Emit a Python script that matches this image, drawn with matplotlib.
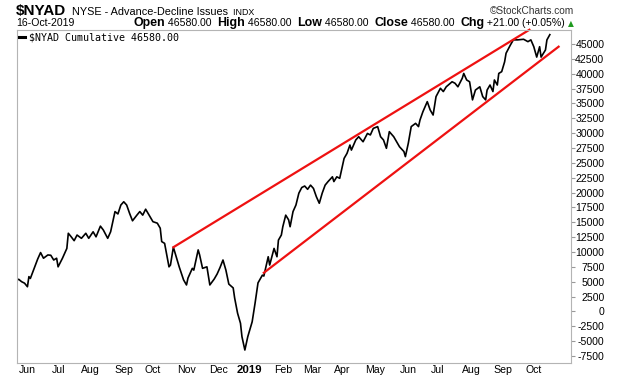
import pandas as pd
from matplotlib import pyplot as plt

# trading-day offsets counted from 23-May-2018, and the NYAD cumulative line
day = [0, 1, 3, 5, 7, 8, 9, 12, 14, 16, 18, 21, 23, 25, 27, 28, 31, 34, 35, 37,
       39, 41, 44, 47, 49, 52, 54, 57, 59, 62, 64, 67, 69, 71, 73, 75, 77, 79, 82, 84,
       86, 88, 91, 93, 96, 98, 99, 101, 104, 105, 107, 110, 111, 114, 116, 117, 120, 121, 124, 125,
       127, 130, 132, 135, 137, 139, 141, 143, 145, 148, 149, 151, 153, 154, 156, 158, 161, 163, 165, 168,
       169, 171, 172, 173, 176, 178, 179, 181, 182, 184, 186, 187, 189, 191, 193, 195, 197, 199, 201, 203,
       205, 207, 209, 211, 213, 216, 217, 219, 221, 224, 226, 228, 229, 232, 234, 237, 240, 242, 244, 247,
       249, 251, 253, 255, 258, 260, 262, 265, 266, 268, 270, 273, 275, 276, 278, 281, 283, 285, 287, 290,
       292, 294, 298, 300, 302, 305, 306, 308, 310, 312, 314, 317, 319, 321, 322, 324, 326, 327, 329, 330,
       332, 334, 335, 338, 340, 343, 347, 350, 352, 354, 356, 358, 359, 362, 363, 365]
nyad = [5300, 5400, 5000, 4750, 4150, 5850, 5550, 7500, 8800, 9900, 8950, 9500, 9450, 8650, 8950, 7500, 8950, 10600, 13150, 12550,
        11900, 12850, 12300, 13150, 12300, 13400, 12550, 14350, 13700, 12300, 13400, 16800, 16400, 17900, 18450, 17900, 16500, 15250, 16200, 16800,
        16200, 17200, 15950, 15100, 14850, 14000, 11750, 11450, 7500, 7800, 10800, 8350, 7500, 5300, 4450, 5600, 7250, 6950, 10350, 9500,
        7250, 7500, 4450, 5450, 6300, 7400, 8650, 6950, 4600, 3950, 2250, -300, -2000, -4250, -6500, -4250, -1750, 1400, 4800, 6100,
        5950, 8100, 9200, 7800, 10600, 9200, 12000, 12850, 14250, 16200, 15400, 14250, 16800, 17900, 19900, 20850, 21100, 20550, 21250, 20700,
        19300, 18200, 19900, 21250, 21850, 22650, 21850, 22650, 22400, 25750, 26600, 28000, 27150, 28850, 29400, 28550, 29950, 29700, 30800, 31100,
        29400, 28850, 27450, 30250, 29400, 28550, 27700, 26900, 26050, 28300, 31100, 31650, 31100, 32200, 33600, 35300, 33900, 33050, 36150, 37550,
        37000, 37800, 38650, 38400, 37800, 39250, 40050, 38950, 38650, 35600, 37250, 37800, 36150, 35600, 37250, 38100, 37000, 38950, 38100, 40050,
        40350, 42000, 43450, 44850, 45700, 45700, 45800, 45400, 45700, 44550, 42800, 44550, 42800, 44000, 45700, 46580]

# trend lines drawn on the chart (trading-day offset, value)
upper_day = [107, 351]
upper_val = [10800, 47400]
lower_day = [169, 371]
lower_val = [6500, 44550]

y_ticks = list(range(-7500, 45001, 2500))

plt.rcParams['axes.unicode_minus'] = False
SANS = ['Liberation Sans', 'DejaVu Sans']
NARROW = ['Liberation Sans Narrow', 'Liberation Sans', 'DejaVu Sans']

dates = pd.bdate_range('2018-05-23', periods=390)
month_idx = [i for i in range(1, 366) if dates[i].month != dates[i - 1].month]
month_lbl = ['2019' if dates[i].month == 1 else dates[i].strftime('%b') for i in month_idx]

fig = plt.figure(figsize=(6.2, 3.76), dpi=100)
ax = fig.add_axes([16.5 / 620, 1 - 362.5 / 376, (571 - 16.5) / 620, (362.5 - 30) / 376])

ax.plot(day, nyad, color='black', lw=1.2, label='$NYAD Cumulative 46580.00')
ax.plot(upper_day, upper_val, color='#ee1111', lw=1.6, clip_on=False)
ax.plot(lower_day, lower_val, color='#ee1111', lw=1.6, clip_on=False)

ax.set_xlim(-0.5, 379.5)
ax.set_ylim(-8600, 47360)

for side in ax.spines.values():
    side.set_color('#b4b4b4')
    side.set_linewidth(0.8)

ax.yaxis.tick_right()
ax.set_yticks(y_ticks)
ax.set_yticklabels([str(v) for v in y_ticks], family=SANS, fontsize=7.6, ha='right')
ax.tick_params(axis='y', direction='out', length=3, color='#999999', pad=21)

ax.set_xticks(month_idx)
ax.set_xticklabels(month_lbl, family=NARROW, fontsize=7.6)
for lab in ax.get_xticklabels():
    if lab.get_text() == '2019':
        lab.set_fontweight('bold')
        lab.set_fontsize(8.2)
ax.tick_params(axis='x', length=0, pad=2)

leg = ax.legend(loc='upper left', frameon=False, handlelength=0.6, handletextpad=0.4,
                borderaxespad=0.15, borderpad=0.1,
                prop={'family': 'DejaVu Sans Mono', 'size': 7.2})
leg.get_lines()[0].set_linewidth(2.2)


def text_run(x, y, parts, align='left'):
    # draw text pieces one after another on a shared baseline (figure pixels)
    r = fig.canvas.get_renderer()
    W, H = fig.bbox.width, fig.bbox.height
    texts = [fig.text(0, 1 - y / H, s, va='baseline', **kw) for s, kw in parts]
    widths = [t.get_window_extent(r).width for t in texts]
    if align == 'right':
        x = x - sum(widths)
    for t, w in zip(texts, widths):
        t.set_x(x / W)
        x += w


bold = dict(family=NARROW, fontweight='bold', fontsize=8.9)
reg = dict(family=SANS, fontsize=7.6)

text_run(16, 15, [('$NYAD', dict(family=NARROW, fontweight='bold', fontsize=11)),
                  ('  NYSE - Advance-Decline Issues', dict(family=SANS, fontsize=7.8)),
                  ('  INDX', dict(family=SANS, fontsize=6.4))])
text_run(574, 14.5, [('\u00a9StockCharts.com', dict(family=SANS, fontsize=7.3, color='#333333'))], align='right')
text_run(16, 26, [('16-Oct-2019', reg)])
text_run(574, 26, [('Open', bold), (' 46580.00  ', reg), ('High', bold), (' 46580.00  ', reg),
                   ('Low', bold), (' 46580.00  ', reg), ('Close', bold), (' 46580.00  ', reg),
                   ('Chg', bold), (' +21.00 (+0.05%) ', reg),
                   ('\u25b2', dict(family='DejaVu Sans', fontsize=5.5, color='#1f9a1f'))], align='right')

fig.savefig('out.png', dpi=100)
